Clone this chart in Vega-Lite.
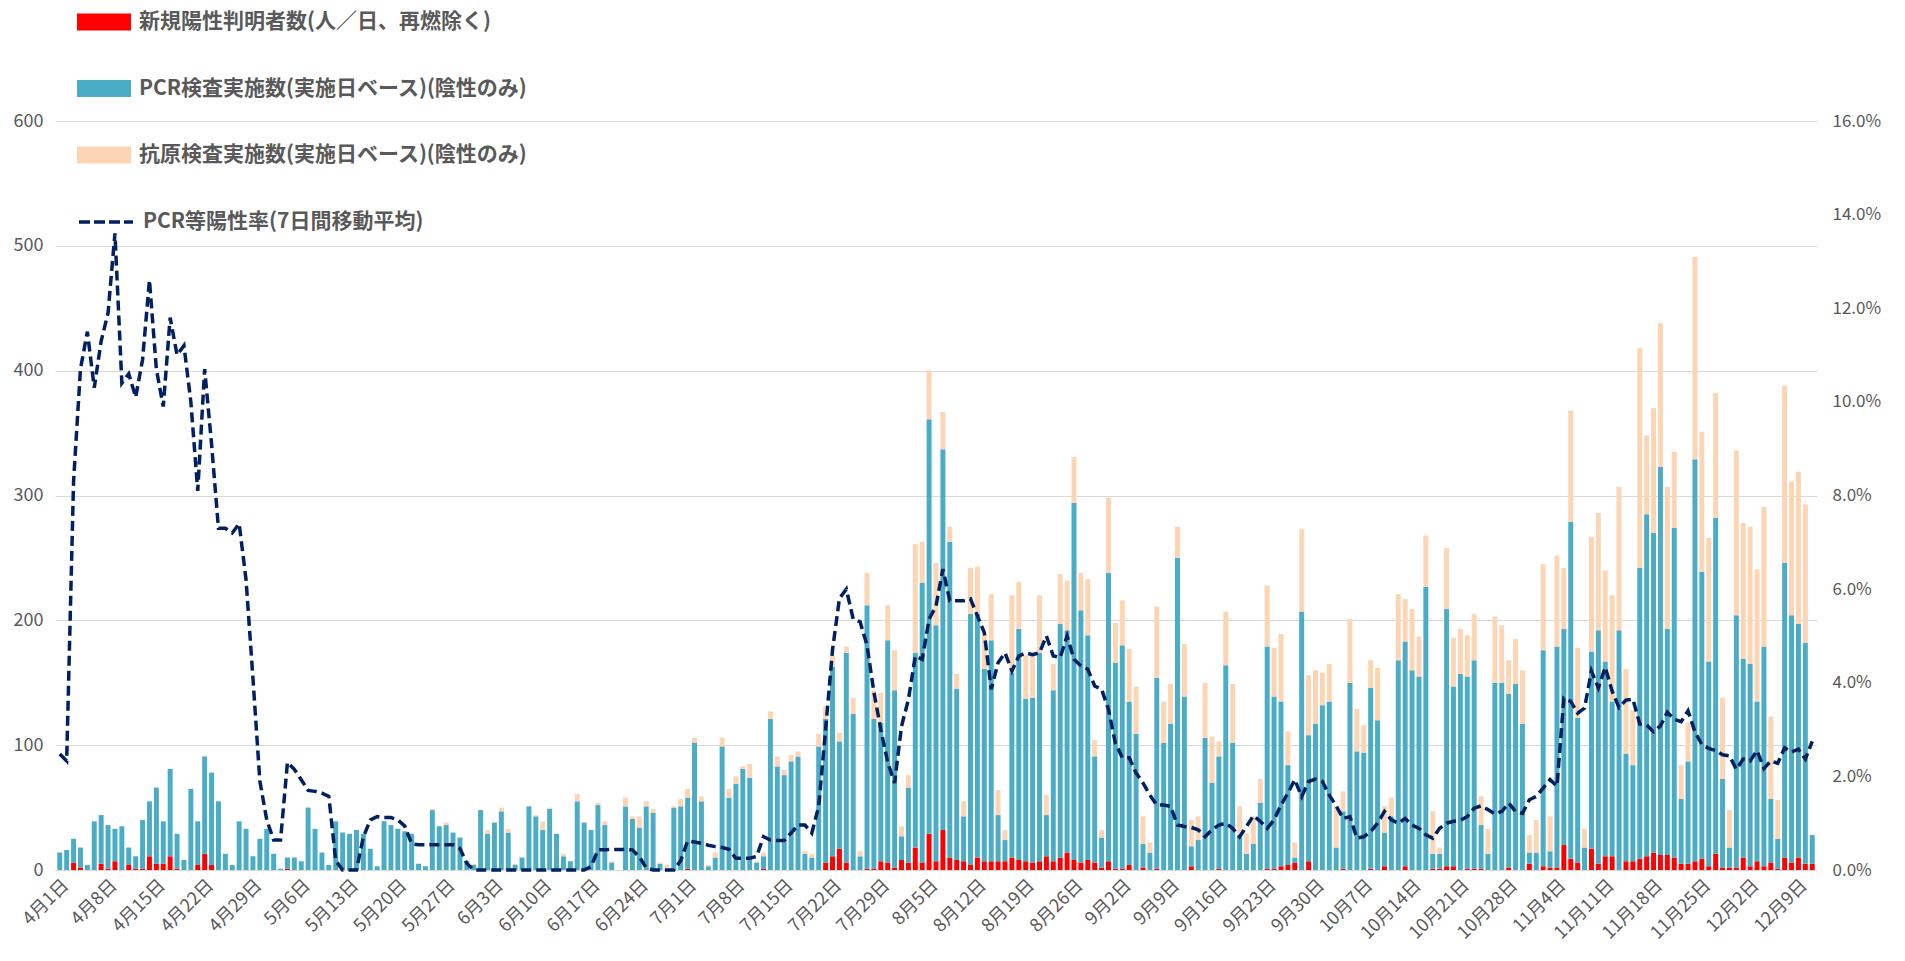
{
"$schema": "https://vega.github.io/schema/vega-lite/v6.json",
"width": 1762, "height": 749,
"autosize": {"type": "none"},
"padding": {"left": 55, "top": 121, "right": 88, "bottom": 91},
"background": "white",
"config": {"view": {"stroke": null}, "font": "Noto Sans CJK JP"},
"data": {"values": [
{"date":"4月1日","pos":0,"pcr":14,"ag":0,"rate":2.48},
{"date":"4月2日","pos":0,"pcr":16,"ag":0,"rate":2.33},
{"date":"4月3日","pos":6,"pcr":19,"ag":0,"rate":8.3},
{"date":"4月4日","pos":2,"pcr":16,"ag":0,"rate":10.7},
{"date":"4月5日","pos":0,"pcr":4,"ag":0,"rate":11.5},
{"date":"4月6日","pos":0,"pcr":39,"ag":0,"rate":10.3},
{"date":"4月7日","pos":5,"pcr":39,"ag":0,"rate":11.3},
{"date":"4月8日","pos":1,"pcr":35,"ag":0,"rate":11.9},
{"date":"4月9日","pos":7,"pcr":26,"ag":0,"rate":13.6},
{"date":"4月10日","pos":0,"pcr":35,"ag":0,"rate":10.4},
{"date":"4月11日","pos":4,"pcr":14,"ag":0,"rate":10.6},
{"date":"4月12日","pos":1,"pcr":10,"ag":0,"rate":10.1},
{"date":"4月13日","pos":1,"pcr":39,"ag":0,"rate":10.9},
{"date":"4月14日","pos":11,"pcr":44,"ag":0,"rate":12.6},
{"date":"4月15日","pos":5,"pcr":61,"ag":0,"rate":10.7},
{"date":"4月16日","pos":5,"pcr":34,"ag":0,"rate":9.9},
{"date":"4月17日","pos":11,"pcr":70,"ag":0,"rate":11.8},
{"date":"4月18日","pos":1,"pcr":28,"ag":0,"rate":11.0},
{"date":"4月19日","pos":0,"pcr":8,"ag":0,"rate":11.2},
{"date":"4月20日","pos":0,"pcr":65,"ag":0,"rate":10.0},
{"date":"4月21日","pos":4,"pcr":35,"ag":0,"rate":8.1},
{"date":"4月22日","pos":13,"pcr":78,"ag":0,"rate":10.7},
{"date":"4月23日","pos":4,"pcr":74,"ag":0,"rate":9.1},
{"date":"4月24日","pos":0,"pcr":55,"ag":0,"rate":7.3},
{"date":"4月25日","pos":0,"pcr":13,"ag":0,"rate":7.3},
{"date":"4月26日","pos":0,"pcr":4,"ag":0,"rate":7.2},
{"date":"4月27日","pos":0,"pcr":39,"ag":0,"rate":7.4},
{"date":"4月28日","pos":0,"pcr":33,"ag":0,"rate":6.2},
{"date":"4月29日","pos":0,"pcr":11,"ag":0,"rate":4.1},
{"date":"4月30日","pos":0,"pcr":25,"ag":0,"rate":1.9},
{"date":"5月1日","pos":0,"pcr":33,"ag":0,"rate":1.07},
{"date":"5月2日","pos":0,"pcr":13,"ag":0,"rate":0.64},
{"date":"5月3日","pos":0,"pcr":1,"ag":0,"rate":0.64},
{"date":"5月4日","pos":1,"pcr":9,"ag":0,"rate":2.3},
{"date":"5月5日","pos":0,"pcr":10,"ag":0,"rate":2.15},
{"date":"5月6日","pos":0,"pcr":7,"ag":0,"rate":1.93},
{"date":"5月7日","pos":0,"pcr":50,"ag":0,"rate":1.7},
{"date":"5月8日","pos":0,"pcr":33,"ag":0,"rate":1.68},
{"date":"5月9日","pos":0,"pcr":14,"ag":0,"rate":1.64},
{"date":"5月10日","pos":0,"pcr":4,"ag":0,"rate":1.57},
{"date":"5月11日","pos":0,"pcr":39,"ag":0,"rate":0.2},
{"date":"5月12日","pos":0,"pcr":30,"ag":0,"rate":0},
{"date":"5月13日","pos":0,"pcr":29,"ag":0,"rate":0},
{"date":"5月14日","pos":0,"pcr":32,"ag":0,"rate":0},
{"date":"5月15日","pos":0,"pcr":29,"ag":0,"rate":0.7},
{"date":"5月16日","pos":0,"pcr":17,"ag":0,"rate":1.07},
{"date":"5月17日","pos":0,"pcr":3,"ag":0,"rate":1.14},
{"date":"5月18日","pos":0,"pcr":39,"ag":0,"rate":1.12},
{"date":"5月19日","pos":0,"pcr":36,"ag":0,"rate":1.12},
{"date":"5月20日","pos":0,"pcr":33,"ag":0,"rate":1.07},
{"date":"5月21日","pos":0,"pcr":31,"ag":0,"rate":0.94},
{"date":"5月22日","pos":0,"pcr":29,"ag":0,"rate":0.56},
{"date":"5月23日","pos":0,"pcr":5,"ag":0,"rate":0.54},
{"date":"5月24日","pos":0,"pcr":3,"ag":0,"rate":0.54},
{"date":"5月25日","pos":0,"pcr":48,"ag":1,"rate":0.54},
{"date":"5月26日","pos":0,"pcr":35,"ag":0,"rate":0.54},
{"date":"5月27日","pos":0,"pcr":36,"ag":2,"rate":0.54},
{"date":"5月28日","pos":0,"pcr":30,"ag":0,"rate":0.54},
{"date":"5月29日","pos":0,"pcr":26,"ag":0,"rate":0.46},
{"date":"5月30日","pos":0,"pcr":7,"ag":0,"rate":0.14},
{"date":"5月31日","pos":0,"pcr":4,"ag":1,"rate":0},
{"date":"6月1日","pos":0,"pcr":48,"ag":0,"rate":0},
{"date":"6月2日","pos":0,"pcr":29,"ag":3,"rate":0},
{"date":"6月3日","pos":0,"pcr":38,"ag":0,"rate":0},
{"date":"6月4日","pos":0,"pcr":47,"ag":3,"rate":0},
{"date":"6月5日","pos":0,"pcr":30,"ag":3,"rate":0},
{"date":"6月6日","pos":0,"pcr":4,"ag":1,"rate":0},
{"date":"6月7日","pos":0,"pcr":10,"ag":0,"rate":0},
{"date":"6月8日","pos":0,"pcr":51,"ag":0,"rate":0},
{"date":"6月9日","pos":0,"pcr":43,"ag":1,"rate":0},
{"date":"6月10日","pos":0,"pcr":32,"ag":7,"rate":0},
{"date":"6月11日","pos":0,"pcr":49,"ag":1,"rate":0},
{"date":"6月12日","pos":0,"pcr":29,"ag":0,"rate":0},
{"date":"6月13日","pos":0,"pcr":11,"ag":2,"rate":0},
{"date":"6月14日","pos":0,"pcr":7,"ag":0,"rate":0},
{"date":"6月15日","pos":0,"pcr":55,"ag":6,"rate":0},
{"date":"6月16日","pos":0,"pcr":38,"ag":0,"rate":0},
{"date":"6月17日","pos":0,"pcr":32,"ag":0,"rate":0.07},
{"date":"6月18日","pos":0,"pcr":52,"ag":2,"rate":0.43},
{"date":"6月19日","pos":0,"pcr":36,"ag":3,"rate":0.43},
{"date":"6月20日","pos":0,"pcr":6,"ag":1,"rate":0.44},
{"date":"6月21日","pos":0,"pcr":0,"ag":0,"rate":0.44},
{"date":"6月22日","pos":0,"pcr":51,"ag":7,"rate":0.44},
{"date":"6月23日","pos":0,"pcr":41,"ag":2,"rate":0.43},
{"date":"6月24日","pos":0,"pcr":34,"ag":9,"rate":0.28},
{"date":"6月25日","pos":0,"pcr":51,"ag":4,"rate":0.05},
{"date":"6月26日","pos":0,"pcr":46,"ag":3,"rate":0},
{"date":"6月27日","pos":0,"pcr":5,"ag":1,"rate":0},
{"date":"6月28日","pos":0,"pcr":0,"ag":4,"rate":0},
{"date":"6月29日","pos":0,"pcr":50,"ag":1,"rate":0},
{"date":"6月30日","pos":0,"pcr":51,"ag":6,"rate":0.2},
{"date":"7月1日","pos":1,"pcr":57,"ag":7,"rate":0.62},
{"date":"7月2日","pos":0,"pcr":102,"ag":4,"rate":0.6},
{"date":"7月3日","pos":0,"pcr":55,"ag":4,"rate":0.57},
{"date":"7月4日","pos":0,"pcr":3,"ag":1,"rate":0.53},
{"date":"7月5日","pos":0,"pcr":10,"ag":4,"rate":0.5},
{"date":"7月6日","pos":0,"pcr":99,"ag":7,"rate":0.48},
{"date":"7月7日","pos":0,"pcr":58,"ag":7,"rate":0.44},
{"date":"7月8日","pos":0,"pcr":69,"ag":6,"rate":0.25},
{"date":"7月9日","pos":0,"pcr":81,"ag":2,"rate":0.25},
{"date":"7月10日","pos":0,"pcr":74,"ag":11,"rate":0.25},
{"date":"7月11日","pos":0,"pcr":6,"ag":1,"rate":0.29},
{"date":"7月12日","pos":1,"pcr":10,"ag":3,"rate":0.71},
{"date":"7月13日","pos":0,"pcr":121,"ag":6,"rate":0.64},
{"date":"7月14日","pos":0,"pcr":83,"ag":8,"rate":0.63},
{"date":"7月15日","pos":0,"pcr":76,"ag":4,"rate":0.63},
{"date":"7月16日","pos":0,"pcr":87,"ag":5,"rate":0.79},
{"date":"7月17日","pos":0,"pcr":91,"ag":4,"rate":0.96},
{"date":"7月18日","pos":0,"pcr":13,"ag":2,"rate":0.96},
{"date":"7月19日","pos":0,"pcr":10,"ag":3,"rate":0.79},
{"date":"7月20日","pos":0,"pcr":99,"ag":10,"rate":1.36},
{"date":"7月21日","pos":6,"pcr":115,"ag":10,"rate":3.0},
{"date":"7月22日","pos":11,"pcr":152,"ag":9,"rate":4.7},
{"date":"7月23日","pos":17,"pcr":86,"ag":7,"rate":5.8},
{"date":"7月24日","pos":6,"pcr":168,"ag":5,"rate":6.0},
{"date":"7月25日","pos":0,"pcr":125,"ag":13,"rate":5.36},
{"date":"7月26日","pos":0,"pcr":11,"ag":4,"rate":5.3},
{"date":"7月27日","pos":1,"pcr":211,"ag":26,"rate":4.8},
{"date":"7月28日","pos":1,"pcr":120,"ag":23,"rate":3.8},
{"date":"7月29日","pos":7,"pcr":111,"ag":24,"rate":3.0},
{"date":"7月30日","pos":6,"pcr":178,"ag":28,"rate":2.3},
{"date":"7月31日","pos":2,"pcr":142,"ag":32,"rate":1.86},
{"date":"8月1日","pos":8,"pcr":19,"ag":8,"rate":3.07},
{"date":"8月2日","pos":6,"pcr":60,"ag":10,"rate":3.64},
{"date":"8月3日","pos":18,"pcr":156,"ag":87,"rate":4.57},
{"date":"8月4日","pos":6,"pcr":224,"ag":33,"rate":4.5},
{"date":"8月5日","pos":29,"pcr":332,"ag":39,"rate":5.36},
{"date":"8月6日","pos":7,"pcr":189,"ag":50,"rate":5.64},
{"date":"8月7日","pos":32,"pcr":305,"ag":30,"rate":6.43},
{"date":"8月8日","pos":10,"pcr":253,"ag":12,"rate":5.75},
{"date":"8月9日","pos":8,"pcr":137,"ag":12,"rate":5.75},
{"date":"8月10日","pos":7,"pcr":36,"ag":12,"rate":5.75},
{"date":"8月11日","pos":4,"pcr":201,"ag":37,"rate":5.79},
{"date":"8月12日","pos":10,"pcr":195,"ag":38,"rate":5.43},
{"date":"8月13日","pos":7,"pcr":154,"ag":27,"rate":5.07},
{"date":"8月14日","pos":7,"pcr":177,"ag":37,"rate":3.86},
{"date":"8月15日","pos":7,"pcr":37,"ag":20,"rate":4.43},
{"date":"8月16日","pos":7,"pcr":17,"ag":8,"rate":4.64},
{"date":"8月17日","pos":10,"pcr":148,"ag":62,"rate":4.25},
{"date":"8月18日","pos":8,"pcr":185,"ag":38,"rate":4.57},
{"date":"8月19日","pos":7,"pcr":130,"ag":35,"rate":4.64},
{"date":"8月20日","pos":6,"pcr":132,"ag":34,"rate":4.6},
{"date":"8月21日","pos":7,"pcr":167,"ag":46,"rate":4.64},
{"date":"8月22日","pos":11,"pcr":33,"ag":16,"rate":5.0},
{"date":"8月23日","pos":7,"pcr":137,"ag":21,"rate":4.57},
{"date":"8月24日","pos":10,"pcr":187,"ag":40,"rate":4.54},
{"date":"8月25日","pos":14,"pcr":178,"ag":40,"rate":5.0},
{"date":"8月26日","pos":8,"pcr":286,"ag":37,"rate":4.5},
{"date":"8月27日","pos":6,"pcr":202,"ag":30,"rate":4.36},
{"date":"8月28日","pos":8,"pcr":180,"ag":45,"rate":4.29},
{"date":"8月29日","pos":6,"pcr":85,"ag":13,"rate":3.93},
{"date":"8月30日","pos":2,"pcr":24,"ag":6,"rate":3.86},
{"date":"8月31日","pos":7,"pcr":231,"ag":60,"rate":3.43},
{"date":"9月1日","pos":1,"pcr":165,"ag":32,"rate":2.71},
{"date":"9月2日","pos":1,"pcr":179,"ag":36,"rate":2.4},
{"date":"9月3日","pos":4,"pcr":131,"ag":42,"rate":2.4},
{"date":"9月4日","pos":0,"pcr":109,"ag":38,"rate":2.07},
{"date":"9月5日","pos":2,"pcr":19,"ag":22,"rate":1.86},
{"date":"9月6日","pos":0,"pcr":14,"ag":8,"rate":1.6},
{"date":"9月7日","pos":1,"pcr":153,"ag":57,"rate":1.39},
{"date":"9月8日","pos":0,"pcr":102,"ag":33,"rate":1.39},
{"date":"9月9日","pos":0,"pcr":117,"ag":32,"rate":1.36},
{"date":"9月10日","pos":0,"pcr":250,"ag":25,"rate":0.96},
{"date":"9月11日","pos":0,"pcr":139,"ag":42,"rate":0.93},
{"date":"9月12日","pos":3,"pcr":16,"ag":21,"rate":0.91},
{"date":"9月13日","pos":0,"pcr":24,"ag":19,"rate":0.86},
{"date":"9月14日","pos":0,"pcr":106,"ag":44,"rate":0.71},
{"date":"9月15日","pos":0,"pcr":70,"ag":37,"rate":0.86},
{"date":"9月16日","pos":1,"pcr":90,"ag":12,"rate":0.96},
{"date":"9月17日","pos":0,"pcr":164,"ag":43,"rate":1.0},
{"date":"9月18日","pos":0,"pcr":102,"ag":47,"rate":0.89},
{"date":"9月19日","pos":0,"pcr":28,"ag":23,"rate":0.71},
{"date":"9月20日","pos":0,"pcr":13,"ag":16,"rate":0.93},
{"date":"9月21日","pos":0,"pcr":21,"ag":22,"rate":1.16},
{"date":"9月22日","pos":0,"pcr":54,"ag":19,"rate":1.04},
{"date":"9月23日","pos":1,"pcr":178,"ag":49,"rate":0.89},
{"date":"9月24日","pos":1,"pcr":138,"ag":39,"rate":1.07},
{"date":"9月25日","pos":3,"pcr":132,"ag":54,"rate":1.39},
{"date":"9月26日","pos":4,"pcr":80,"ag":27,"rate":1.64},
{"date":"9月27日","pos":6,"pcr":4,"ag":12,"rate":1.93},
{"date":"9月28日","pos":0,"pcr":207,"ag":66,"rate":1.57},
{"date":"9月29日","pos":7,"pcr":101,"ag":48,"rate":1.89},
{"date":"9月30日","pos":0,"pcr":117,"ag":43,"rate":1.94},
{"date":"10月1日","pos":0,"pcr":132,"ag":26,"rate":1.89},
{"date":"10月2日","pos":0,"pcr":135,"ag":30,"rate":1.6},
{"date":"10月3日","pos":0,"pcr":18,"ag":33,"rate":1.37},
{"date":"10月4日","pos":1,"pcr":46,"ag":16,"rate":1.1},
{"date":"10月5日","pos":0,"pcr":150,"ag":51,"rate":1.14},
{"date":"10月6日","pos":0,"pcr":95,"ag":34,"rate":0.68},
{"date":"10月7日","pos":0,"pcr":94,"ag":22,"rate":0.71},
{"date":"10月8日","pos":1,"pcr":145,"ag":22,"rate":0.82},
{"date":"10月9日","pos":0,"pcr":120,"ag":42,"rate":1.0},
{"date":"10月10日","pos":3,"pcr":27,"ag":21,"rate":1.25},
{"date":"10月11日","pos":0,"pcr":43,"ag":15,"rate":1.07},
{"date":"10月12日","pos":0,"pcr":168,"ag":53,"rate":1.0},
{"date":"10月13日","pos":3,"pcr":180,"ag":34,"rate":1.1},
{"date":"10月14日","pos":0,"pcr":160,"ag":49,"rate":0.96},
{"date":"10月15日","pos":0,"pcr":155,"ag":32,"rate":0.89},
{"date":"10月16日","pos":0,"pcr":227,"ag":41,"rate":0.75},
{"date":"10月17日","pos":1,"pcr":12,"ag":34,"rate":0.68},
{"date":"10月18日","pos":1,"pcr":12,"ag":5,"rate":0.89},
{"date":"10月19日","pos":3,"pcr":206,"ag":49,"rate":1.0},
{"date":"10月20日","pos":3,"pcr":144,"ag":39,"rate":1.04},
{"date":"10月21日","pos":0,"pcr":157,"ag":36,"rate":1.06},
{"date":"10月22日","pos":1,"pcr":154,"ag":33,"rate":1.14},
{"date":"10月23日","pos":1,"pcr":167,"ag":37,"rate":1.32},
{"date":"10月24日","pos":1,"pcr":35,"ag":23,"rate":1.37},
{"date":"10月25日","pos":0,"pcr":13,"ag":20,"rate":1.29},
{"date":"10月26日","pos":0,"pcr":150,"ag":53,"rate":1.2},
{"date":"10月27日","pos":0,"pcr":150,"ag":46,"rate":1.25},
{"date":"10月28日","pos":2,"pcr":139,"ag":27,"rate":1.43},
{"date":"10月29日","pos":0,"pcr":149,"ag":36,"rate":1.25},
{"date":"10月30日","pos":0,"pcr":117,"ag":43,"rate":1.21},
{"date":"10月31日","pos":5,"pcr":9,"ag":14,"rate":1.5},
{"date":"11月1日","pos":0,"pcr":14,"ag":26,"rate":1.57},
{"date":"11月2日","pos":3,"pcr":173,"ag":69,"rate":1.75},
{"date":"11月3日","pos":2,"pcr":13,"ag":28,"rate":1.93},
{"date":"11月4日","pos":2,"pcr":177,"ag":73,"rate":1.79},
{"date":"11月5日","pos":20,"pcr":173,"ag":49,"rate":3.67},
{"date":"11月6日","pos":9,"pcr":270,"ag":89,"rate":3.6},
{"date":"11月7日","pos":6,"pcr":116,"ag":56,"rate":3.35},
{"date":"11月8日","pos":0,"pcr":18,"ag":15,"rate":3.46},
{"date":"11月9日","pos":17,"pcr":158,"ag":92,"rate":4.25},
{"date":"11月10日","pos":5,"pcr":187,"ag":94,"rate":3.89},
{"date":"11月11日","pos":11,"pcr":156,"ag":73,"rate":4.33},
{"date":"11月12日","pos":11,"pcr":124,"ag":85,"rate":3.82},
{"date":"11月13日","pos":0,"pcr":192,"ag":115,"rate":3.47},
{"date":"11月14日","pos":7,"pcr":86,"ag":68,"rate":3.63},
{"date":"11月15日","pos":7,"pcr":77,"ag":44,"rate":3.65},
{"date":"11月16日","pos":9,"pcr":233,"ag":176,"rate":3.12},
{"date":"11月17日","pos":11,"pcr":274,"ag":63,"rate":3.1},
{"date":"11月18日","pos":14,"pcr":256,"ag":100,"rate":2.95},
{"date":"11月19日","pos":12,"pcr":311,"ag":115,"rate":3.08},
{"date":"11月20日","pos":12,"pcr":181,"ag":114,"rate":3.37},
{"date":"11月21日","pos":10,"pcr":264,"ag":61,"rate":3.22},
{"date":"11月22日","pos":5,"pcr":52,"ag":27,"rate":3.17},
{"date":"11月23日","pos":5,"pcr":82,"ag":31,"rate":3.4},
{"date":"11月24日","pos":7,"pcr":322,"ag":162,"rate":2.95},
{"date":"11月25日","pos":9,"pcr":230,"ag":112,"rate":2.68},
{"date":"11月26日","pos":3,"pcr":164,"ag":99,"rate":2.6},
{"date":"11月27日","pos":13,"pcr":269,"ag":100,"rate":2.55},
{"date":"11月28日","pos":2,"pcr":71,"ag":65,"rate":2.46},
{"date":"11月29日","pos":2,"pcr":16,"ag":30,"rate":2.44},
{"date":"11月30日","pos":2,"pcr":202,"ag":132,"rate":2.15},
{"date":"12月1日","pos":10,"pcr":159,"ag":109,"rate":2.37},
{"date":"12月2日","pos":3,"pcr":162,"ag":110,"rate":2.33},
{"date":"12月3日","pos":7,"pcr":128,"ag":106,"rate":2.55},
{"date":"12月4日","pos":3,"pcr":176,"ag":112,"rate":2.17},
{"date":"12月5日","pos":6,"pcr":51,"ag":66,"rate":2.33},
{"date":"12月6日","pos":1,"pcr":24,"ag":31,"rate":2.28},
{"date":"12月7日","pos":10,"pcr":236,"ag":142,"rate":2.61},
{"date":"12月8日","pos":6,"pcr":198,"ag":107,"rate":2.52},
{"date":"12月9日","pos":10,"pcr":187,"ag":122,"rate":2.58},
{"date":"12月10日","pos":5,"pcr":177,"ag":111,"rate":2.37},
{"date":"12月11日","pos":5,"pcr":23,"ag":0,"rate":2.75}
]},
"encoding": {
  "x": {"field": "date", "type": "ordinal", "sort": null,
    "scale": {"paddingInner": 0.28, "paddingOuter": 0.33},
    "axis": {"title": null, "labelAngle": -45, "labelFontSize": 18, "labelColor": "#595959",
      "ticks": false, "domainColor": "#d9d9d9", "grid": false, "labelPadding": 6,
      "values": ["4月1日","4月8日","4月15日","4月22日","4月29日","5月6日","5月13日","5月20日","5月27日","6月3日","6月10日","6月17日","6月24日","7月1日","7月8日","7月15日","7月22日","7月29日","8月5日","8月12日","8月19日","8月26日","9月2日","9月9日","9月16日","9月23日","9月30日","10月7日","10月14日","10月21日","10月28日","11月4日","11月11日","11月18日","11月25日","12月2日","12月9日"]}}
},
"layer": [
  {
    "transform": [{"fold": ["pos", "pcr", "ag"], "as": ["series", "value"]}],
    "mark": {"type": "bar"},
    "encoding": {
      "y": {"field": "value", "type": "quantitative", "stack": "zero",
        "scale": {"domain": [0, 600]},
        "axis": {"title": null, "orient": "left", "values": [0,100,200,300,400,500,600], "grid": true, "gridColor": "#d9d9d9",
          "domain": false, "ticks": false, "labelFontSize": 18, "labelColor": "#595959", "labelPadding": 12}},
      "color": {"field": "series", "type": "nominal",
        "scale": {"domain": ["pos", "pcr", "ag"], "range": ["#FF0000", "#4BACC6", "#FCD5B5"]},
        "legend": {"orient": "none", "legendX": 22, "legendY": -126, "title": null, "padding": 0,
          "symbolType": "M-1,-0.315H1V0.315H-1Z", "symbolSize": 2916, "symbolStrokeWidth": 0, "symbolOpacity": 1,
          "labelFontSize": 21, "labelFontWeight": "bold", "labelColor": "#595959", "labelLimit": 0,
          "rowPadding": 29.5, "labelOffset": 8,
          "labelExpr": "datum.value == 'pos' ? '新規陽性判明者数(人／日、再燃除く)' : datum.value == 'pcr' ? 'PCR検査実施数(実施日ベース)(陰性のみ)' : '抗原検査実施数(実施日ベース)(陰性のみ)'"}},
      "order": {"field": "series", "sort": "descending"}
    }
  },
  {
    "mark": {"type": "line", "strokeDash": [10, 5], "strokeWidth": 3.5},
    "encoding": {
      "y": {"field": "rate", "type": "quantitative", "scale": {"domain": [0, 16]},
        "axis": {"title": null, "orient": "right", "values": [0,2,4,6,8,10,12,14,16], "grid": false,
          "domain": false, "ticks": false, "labelFontSize": 17, "labelColor": "#595959", "labelPadding": 15,
          "labelExpr": "format(datum.value, '.1f') + '%'"}},
      "stroke": {"datum": "PCR等陽性率(7日間移動平均)", "type": "nominal",
        "scale": {"range": ["#002060"]},
        "legend": {"orient": "none", "legendX": 22, "legendY": 72, "title": null, "padding": 0,
          "symbolType": "stroke", "symbolSize": 2916, "symbolStrokeWidth": 3.5, "symbolDash": [11, 4],
          "labelFontSize": 21, "labelFontWeight": "bold", "labelColor": "#595959", "labelLimit": 0, "labelOffset": 8}}
    }
  }
],
"resolve": {"scale": {"y": "independent"}}
}
